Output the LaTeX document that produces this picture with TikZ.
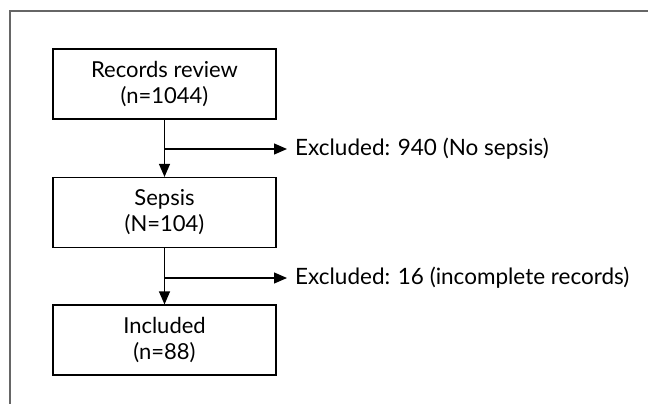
\documentclass[tikz,border=0pt]{standalone}
\usepackage{fontspec}
\setmainfont{Lato}
\usetikzlibrary{arrows.meta}
\begin{document}
\begin{tikzpicture}[x=1pt,y=-1pt,
  box/.style={draw, line width=1.2pt, minimum width=223pt, minimum height=70pt, align=center, font=\fontsize{22}{26}\selectfont, inner sep=0pt},
  lbl/.style={anchor=west, font=\fontsize{22.5}{26}\selectfont, inner sep=0pt},
  conn/.style={line width=1.2pt, -{Triangle[length=13pt,width=11pt]}}]
\useasboundingbox (0,0) rectangle (648,404);
\draw[line width=1.5pt, black!60] (10,404) -- (10,11) -- (648,11);
\node[box] (b1) at (164.5,84) {Records review\\(n=1044)};
\node[box] (b2) at (164.5,212.5) {Sepsis\\(N=104)};
\node[box] (b3) at (164.5,340) {Included\\(n=88)};
\coordinate (j1) at (164.5,149);
\coordinate (j2) at (164.5,278);
\node[lbl] (e1) at (295,149) {Excluded: 940 (No sepsis)};
\node[lbl] (e2) at (295,278) {Excluded: 16 (incomplete records)};
\draw[conn] (b1) -- (b2);
\draw[conn] (b2) -- (b3);
\draw[conn] (j1) -- ([xshift=-8pt]e1.west);
\draw[conn] (j2) -- ([xshift=-8pt]e2.west);
\end{tikzpicture}
\end{document}
